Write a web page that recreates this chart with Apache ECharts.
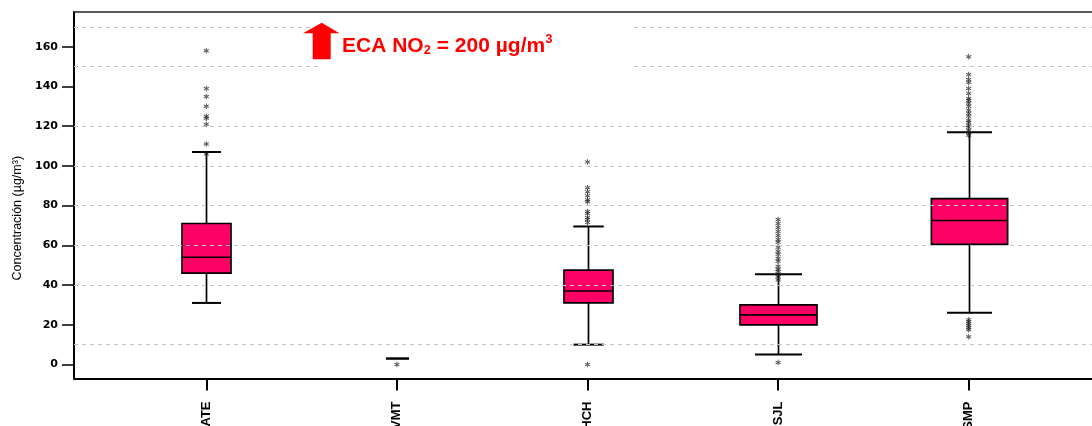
<!DOCTYPE html>
<html><head><meta charset="utf-8">
<script src="https://cdn.jsdelivr.net/npm/echarts@6/dist/echarts.min.js"></script>
<style>html,body{margin:0;padding:0;background:#fff}#c{width:1092px;height:426px}</style>
</head><body><div id="c"></div>
<script>
// ---- data ----
const categories = ['ATE', 'VMT', 'HCH', 'SJL', 'SMP'];
const whiskerLow  = [31, 3, 10, 5, 26];
const q1          = [46, 3, 31, 20, 60.5];
const median      = [54, 3, 37, 25, 72.5];
const q3          = [71, 3, 47.5, 30, 83.5];
const whiskerHigh = [107, 3, 69.5, 45.5, 117];
const outliersATE = [158, 139, 135, 130, 125, 124, 121, 111, 106];
const outliersVMT = [0];
const outliersHCH = [102, 89, 87, 85, 83, 82, 77, 76, 74, 73, 71.5, 0];
const outliersSJL = [73, 71, 69, 67, 65, 63, 61.5, 59, 57, 55.5, 53.5, 52, 49.5, 48, 47, 45.5, 44, 42.5, 1];
const outliersSMP = [155, 146, 143.5, 142, 139, 136.5, 134, 133, 131.5, 130, 128, 126.5, 125, 123, 122, 120.5, 119.5, 118, 117, 115.5, 22.5, 21.5, 20.5, 19.5, 18.5, 17.5, 14];
const yTicks = [0, 20, 40, 60, 80, 100, 120, 140, 160];
const gridValues = [170, 150, 120, 100, 80, 60, 40, 10];

// ---- style (not data) ----
const boxWidthFrac = [0.257, 0, 0.257, 0.404, 0.40];
const capWidthFrac = [0.152, 0.12, 0.16, 0.247, 0.236];
const Y_MIN = -7.05, Y_MAX = 177.5;

const outlierLists = [outliersATE, outliersVMT, outliersHCH, outliersSJL, outliersSMP];
const boxData = categories.map((c, i) => [i, whiskerLow[i], q1[i], median[i], q3[i], whiskerHigh[i]]);
const outlierData = [];
outlierLists.forEach((list, i) => list.forEach(v => outlierData.push([i, v])));

const asterisk = 'path://M4.2,0H5.8V10H4.2Z M0.27,3.19L1.07,1.81L9.73,6.81L8.93,8.19Z M0.27,6.81L1.07,8.19L9.73,3.19L8.93,1.81Z';

function renderBox(params, api) {
  const i = api.value(0);
  const lo = api.coord([i, api.value(1)]);
  const b1 = api.coord([i, api.value(2)]);
  const md = api.coord([i, api.value(3)]);
  const b3 = api.coord([i, api.value(4)]);
  const hi = api.coord([i, api.value(5)]);
  const band = api.size([1, 0])[0];
  const bw = band * boxWidthFrac[params.dataIndex];
  const cw = band * capWidthFrac[params.dataIndex];
  const x = Math.round(lo[0]) + 0.5;
  const st = { stroke: '#000', lineWidth: 1.7 };
  const children = [
    { type: 'line', shape: { x1: x, y1: lo[1], x2: x, y2: b1[1] }, style: st },
    { type: 'line', shape: { x1: x, y1: b3[1], x2: x, y2: hi[1] }, style: st },
    { type: 'line', shape: { x1: x - cw / 2, y1: lo[1], x2: x + cw / 2, y2: lo[1] }, style: { stroke: '#000', lineWidth: 2 } },
    { type: 'line', shape: { x1: x - cw / 2, y1: hi[1], x2: x + cw / 2, y2: hi[1] }, style: { stroke: '#000', lineWidth: 2 } }
  ];
  if (bw > 0) {
    children.push({ type: 'rect', shape: { x: x - bw / 2, y: b3[1], width: bw, height: b1[1] - b3[1] },
      style: { fill: '#ff0066', stroke: '#000', lineWidth: 1.7 } });
    children.push({ type: 'line', shape: { x1: x - bw / 2, y1: md[1], x2: x + bw / 2, y2: md[1] }, style: st });
  }
  return { type: 'group', children };
}

const chart = echarts.init(document.getElementById('c'), null, { renderer: 'canvas' });
chart.setOption({
  animation: false,
  backgroundColor: '#fff',
  grid: [
    { left: 111, right: 28, top: 12, bottom: 47.5, containLabel: false, outerBoundsMode: 'none' },
    { left: 74, right: 0, top: 12, bottom: 47.5, containLabel: false, outerBoundsMode: 'none' }
  ],
  xAxis: [
    { type: 'category', gridIndex: 0, data: categories,
      axisLine: { show: false, onZero: false },
      axisTick: { show: true, alignWithLabel: true, length: 12, lineStyle: { color: '#000', width: 2 } },
      axisLabel: { rotate: 90, margin: 23, color: '#000', fontFamily: 'Liberation Sans', fontWeight: 'bold', fontSize: 13 },
      splitLine: { show: false } },
    { type: 'value', gridIndex: 1, position: 'bottom', min: 0, max: 1,
      axisLine: { show: true, onZero: false, lineStyle: { color: '#000', width: 2 } },
      axisTick: { show: false }, axisLabel: { show: false }, splitLine: { show: false } },
    { type: 'value', gridIndex: 1, position: 'top', min: 0, max: 1,
      axisLine: { show: true, onZero: false, lineStyle: { color: '#222', width: 1.5 } },
      axisTick: { show: false }, axisLabel: { show: false }, splitLine: { show: false } }
  ],
  yAxis: [
    { type: 'value', gridIndex: 0, min: Y_MIN, max: Y_MAX, show: false, splitLine: { show: false } },
    { type: 'value', gridIndex: 1, min: Y_MIN, max: Y_MAX,
      name: 'Concentración (µg/m³)', nameLocation: 'middle', nameGap: 48,
      nameTextStyle: { fontFamily: 'Liberation Sans', fontSize: 12.5, color: '#000', padding: [0, 46, 0, 0] },
      axisLine: { show: true, onZero: false, lineStyle: { color: '#000', width: 2 } },
      axisTick: { show: true, customValues: yTicks, length: 12, lineStyle: { color: '#000', width: 1.5 } },
      axisLabel: { customValues: yTicks, margin: 16, color: '#000', fontFamily: 'DejaVu Sans', fontWeight: 'bold', fontSize: 11 },
      splitLine: { show: false } }
  ],
  series: [
    { type: 'custom', xAxisIndex: 0, yAxisIndex: 0, renderItem: renderBox, data: boxData,
      encode: { x: 0, y: [1, 2, 3, 4, 5] }, z: 2 },
    { type: 'scatter', xAxisIndex: 0, yAxisIndex: 0, data: outlierData, symbol: asterisk,
      symbolSize: 5.5, itemStyle: { color: '#1a1a1a' }, z: 3 },
    { type: 'line', xAxisIndex: 1, yAxisIndex: 1, data: [], z: 4,
      markLine: { silent: true, symbol: 'none', label: { show: false },
        lineStyle: { type: [4, 4], color: '#c4c4c4', width: 1 },
        data: gridValues.map(v => ({ yAxis: v })) } }
  ],
  graphic: [
    { type: 'rect', z: 100, shape: { x: 318, y: 17, width: 315, height: 55 }, style: { fill: '#fff' } },
    { type: 'polygon', z: 101, shape: { points: [[303, 33.3], [321.7, 22.7], [339.5, 33.3], [330.7, 33.3], [330.7, 59.3], [312.7, 59.3], [312.7, 33.3]] },
      style: { fill: '#ff0000' } },
    { type: 'text', z: 101, x: 342, y: 46,
      style: { text: '{m|ECA NO}{sub|2}{m| = 200 µg/m}{sup|3}', align: 'left', verticalAlign: 'middle',
        rich: {
          m: { fontFamily: 'Liberation Sans', fontWeight: 'bold', fontSize: 21, fill: '#ff0000', lineHeight: 24, height: 24, verticalAlign: 'middle' },
          sub: { fontFamily: 'Liberation Sans', fontWeight: 'bold', fontSize: 13, fill: '#ff0000', lineHeight: 16, height: 16, verticalAlign: 'bottom' },
          sup: { fontFamily: 'Liberation Sans', fontWeight: 'bold', fontSize: 13, fill: '#ff0000', lineHeight: 10, height: 10, verticalAlign: 'top' }
        } } }
  ]
});
</script></body></html>
